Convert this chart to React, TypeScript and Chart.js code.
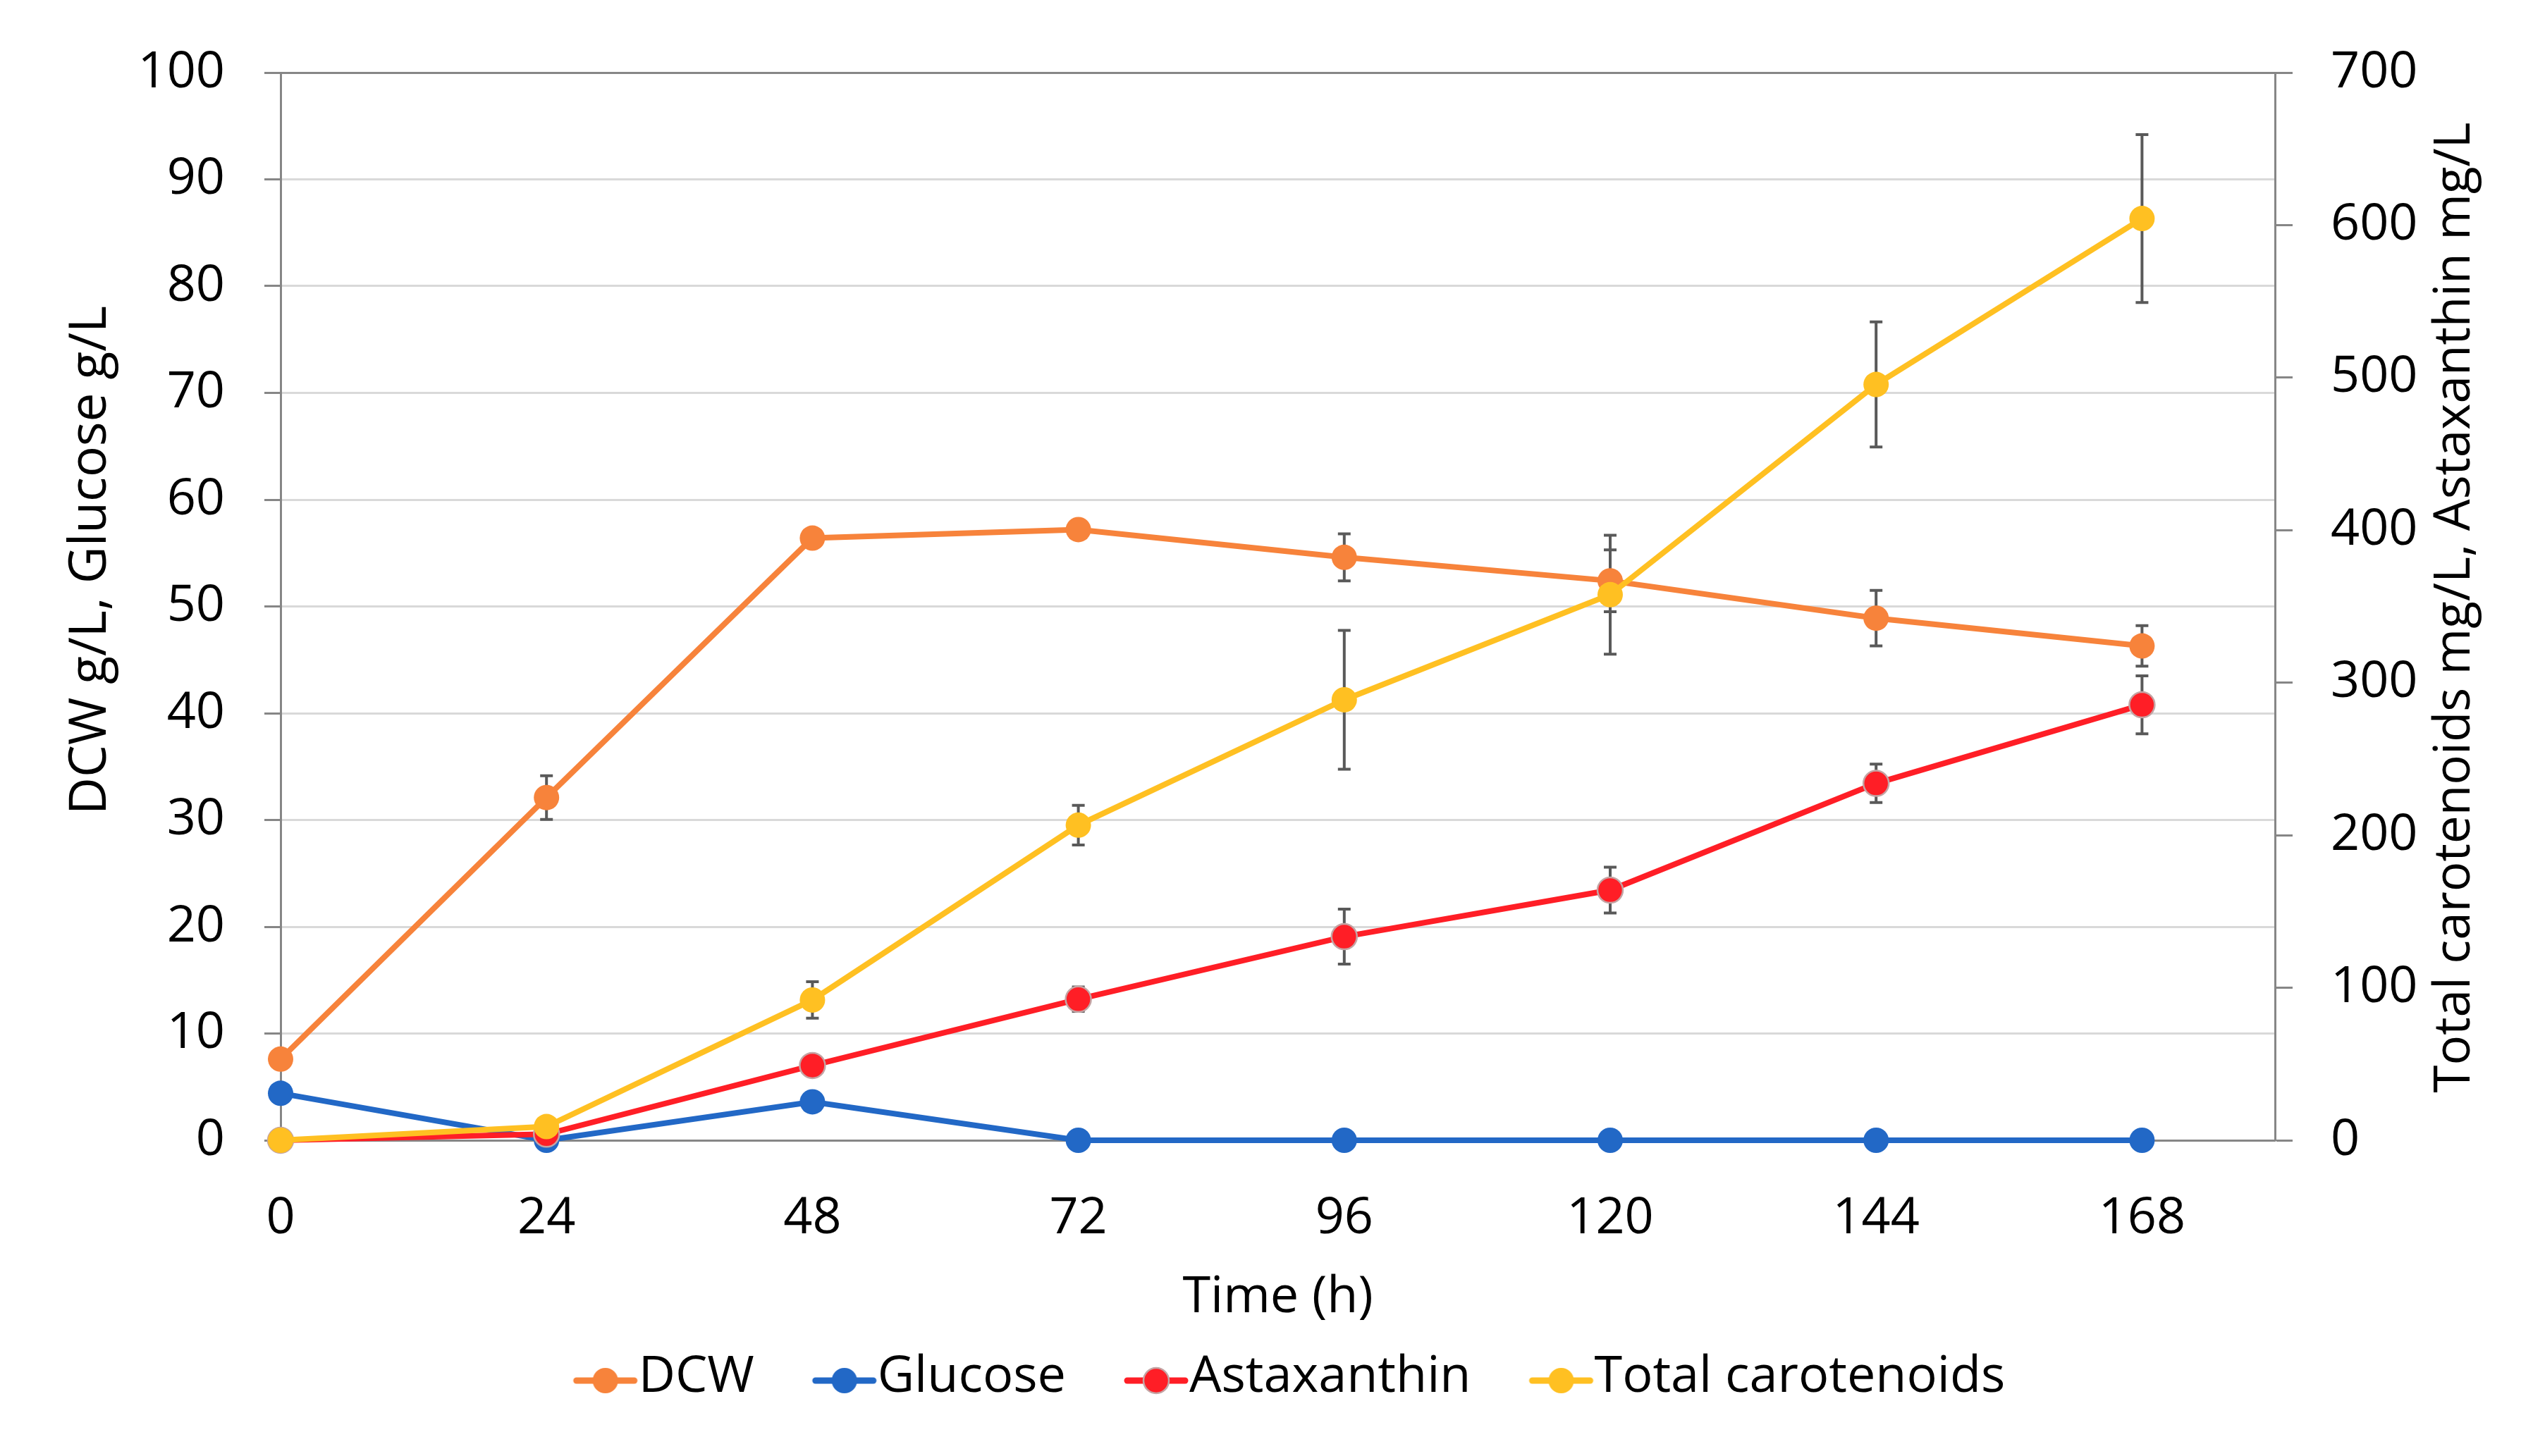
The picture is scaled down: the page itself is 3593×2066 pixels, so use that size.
import React, { useEffect, useRef } from 'react';
import { Chart, registerables } from 'chart.js';

Chart.register(...registerables);

// ---- data ----
const timeH = [0, 24, 48, 72, 96, 120, 144, 168];
const xTickValues = [0, 24, 48, 72, 96, 120, 144, 168];
const dcw = [7.6, 32.1, 56.4, 57.2, 54.6, 52.4, 48.9, 46.3];
const dcwErr = [0, 2.05, 0, 0, 2.2, 2.9, 2.6, 1.9];
const glucose = [4.4, 0, 3.6, 0, 0, 0, 0, 0];
const astaxanthin = [0, 4, 49, 92.5, 133.5, 164, 234, 285.5];
const astaxanthinErr = [0, 0, 0, 8, 18, 15, 12.6, 19];
const totalCarotenoids = [0, 9, 92, 206.6, 288.8, 357.7, 495.5, 604.3];
const totalCarotenoidsErr = [0, 0, 12, 13, 45.5, 39, 41, 55];
const seriesNames = ['DCW', 'Glucose', 'Astaxanthin', 'Total carotenoids'];
const seriesColors = ['#F7833B', '#2268C6', '#FF1E26', '#FFC022'];
const xTitle = 'Time (h)';
const leftTitle = 'DCW g/L, Glucose g/L';
const rightTitle = 'Total carotenoids mg/L, Astaxanthin mg/L';

const W = 3593;
const H = 2066;
const FONT = '"Open Sans", "Liberation Sans", sans-serif';
const AXIS_GRAY = '#868686';
const GRID_GRAY = '#D9D9D9';

function makeLegendSymbol(color: string, border?: string): HTMLCanvasElement {
  const c = document.createElement('canvas');
  c.width = 94;
  c.height = 64;
  const g = c.getContext('2d')!;
  const cy = 37;
  g.strokeStyle = color;
  g.lineWidth = 9;
  g.lineCap = 'round';
  g.beginPath();
  g.moveTo(6, cy);
  g.lineTo(88, cy);
  g.stroke();
  g.beginPath();
  g.arc(47, cy, 18, 0, Math.PI * 2);
  g.fillStyle = color;
  g.fill();
  if (border) {
    g.lineWidth = 2.5;
    g.strokeStyle = border;
    g.stroke();
  }
  return c;
}

const errorBarPlugin = {
  id: 'errorBars',
  beforeDatasetsDraw(chart: any) {
    const ctx = chart.ctx;
    const xs = chart.scales.x;
    const groups = [
      { vals: dcw, errs: dcwErr, axis: 'yL' },
      { vals: astaxanthin, errs: astaxanthinErr, axis: 'yR' },
      { vals: totalCarotenoids, errs: totalCarotenoidsErr, axis: 'yR' },
    ];
    ctx.save();
    ctx.strokeStyle = '#595959';
    ctx.lineWidth = 4;
    for (const g of groups) {
      const ys = chart.scales[g.axis];
      g.vals.forEach((v: number, i: number) => {
        const e = g.errs[i];
        if (!e) return;
        const x = xs.getPixelForValue(timeH[i]);
        const y1 = ys.getPixelForValue(v + e);
        const y2 = ys.getPixelForValue(v - e);
        ctx.beginPath();
        ctx.moveTo(x, y1);
        ctx.lineTo(x, y2);
        ctx.moveTo(x - 9, y1);
        ctx.lineTo(x + 9, y1);
        ctx.moveTo(x - 9, y2);
        ctx.lineTo(x + 9, y2);
        ctx.stroke();
      });
    }
    ctx.restore();
  },
};

const axisTitlePlugin = {
  id: 'axisTitles',
  afterDraw(chart: any) {
    const ctx = chart.ctx;
    ctx.save();
    ctx.fillStyle = '#000';
    ctx.textAlign = 'center';
    ctx.textBaseline = 'alphabetic';
    ctx.font = `73px ${FONT}`;
    ctx.translate(150, 795);
    ctx.rotate(-Math.PI / 2);
    ctx.fillText(leftTitle, 0, 0);
    ctx.restore();

    ctx.save();
    ctx.fillStyle = '#000';
    ctx.textAlign = 'center';
    ctx.textBaseline = 'alphabetic';
    ctx.font = `71px ${FONT}`;
    ctx.translate(3503, 862);
    ctx.rotate(-Math.PI / 2);
    ctx.fillText(rightTitle, 0, 0);
    ctx.restore();
  },
};

export default function App() {
  const ref = useRef<HTMLCanvasElement | null>(null);

  useEffect(() => {
    document.body.style.margin = '0';
    const canvas = ref.current!;
    const toPts = (arr: number[]) => timeH.map((t, i) => ({ x: t, y: arr[i] }));
    const symbols = [
      makeLegendSymbol(seriesColors[0]),
      makeLegendSymbol(seriesColors[1]),
      makeLegendSymbol(seriesColors[2], '#C4A4A4'),
      makeLegendSymbol(seriesColors[3]),
    ];
    const base = {
      borderWidth: 8,
      pointRadius: 18,
      pointHoverRadius: 18,
      pointBorderWidth: 0,
      clip: false as const,
      tension: 0,
    };
    const chart = new Chart(canvas, {
      type: 'line',
      data: {
        datasets: [
          {
            ...base,
            label: seriesNames[0],
            data: toPts(dcw),
            borderColor: seriesColors[0],
            backgroundColor: seriesColors[0],
            pointBackgroundColor: seriesColors[0],
            yAxisID: 'yL',
            order: 4,
          },
          {
            ...base,
            label: seriesNames[1],
            data: toPts(glucose),
            borderColor: seriesColors[1],
            backgroundColor: seriesColors[1],
            pointBackgroundColor: seriesColors[1],
            yAxisID: 'yL',
            order: 3,
          },
          {
            ...base,
            label: seriesNames[2],
            data: toPts(astaxanthin),
            borderColor: seriesColors[2],
            backgroundColor: seriesColors[2],
            pointBackgroundColor: seriesColors[2],
            pointBorderColor: '#C4A4A4',
            pointBorderWidth: 2.5,
            yAxisID: 'yR',
            order: 2,
          },
          {
            ...base,
            label: seriesNames[3],
            data: toPts(totalCarotenoids),
            borderColor: seriesColors[3],
            backgroundColor: seriesColors[3],
            pointBackgroundColor: seriesColors[3],
            yAxisID: 'yR',
            order: 1,
          },
        ],
      },
      options: {
        responsive: false,
        maintainAspectRatio: false,
        devicePixelRatio: 1,
        animation: false,
        events: [],
        layout: { padding: { left: 99, right: 0, top: 103, bottom: 66 } },
        font: { family: FONT },
        plugins: {
          tooltip: { enabled: false },
          legend: {
            display: true,
            position: 'bottom',
            align: 'center',
            labels: {
              usePointStyle: true,
              pointStyleWidth: 22,
              padding: 117,
              color: '#000',
              font: { family: FONT, size: 72 },
              generateLabels: () =>
                seriesNames.map((name, i) => ({
                  text: name,
                  pointStyle: symbols[i] as any,
                  fillStyle: seriesColors[i],
                  strokeStyle: seriesColors[i],
                  lineWidth: 0,
                  hidden: false,
                  datasetIndex: i,
                  fontColor: '#000',
                })),
            },
          },
        },
        scales: {
          x: {
            type: 'linear',
            min: 0,
            max: 180,
            afterBuildTicks: (scale: any) => {
              scale.ticks = xTickValues.map((v) => ({ value: v }));
            },
            afterFit: (scale: any) => {
              scale.height = 183;
            },
            grid: { display: false, drawTicks: false },
            border: { display: true, color: AXIS_GRAY, width: 3 },
            ticks: {
              color: '#000',
              padding: 68,
              maxRotation: 0,
              autoSkip: false,
              font: { family: FONT, size: 72 },
              callback: (v: any) => String(v),
            },
            title: {
              display: true,
              text: xTitle,
              color: '#000',
              font: { family: FONT, size: 72, lineHeight: 1.2 },
              padding: { top: 0, bottom: -84 },
            },
          },
          yL: {
            type: 'linear',
            position: 'left',
            min: 0,
            max: 100,
            afterFit: (scale: any) => {
              scale.width = 299;
            },
            ticks: {
              stepSize: 10,
              color: '#000',
              padding: 56,
              font: { family: FONT, size: 72 },
            },
            grid: {
              color: (c: any) => (c.tick && c.tick.value === 100 ? AXIS_GRAY : GRID_GRAY),
              lineWidth: 3,
              tickLength: 23,
              tickColor: AXIS_GRAY,
              tickWidth: 3,
            },
            border: { display: true, color: AXIS_GRAY, width: 3 },
          },
          yR: {
            type: 'linear',
            position: 'right',
            min: 0,
            max: 700,
            afterFit: (scale: any) => {
              scale.width = 366;
            },
            ticks: {
              stepSize: 100,
              color: '#000',
              padding: 54,
              font: { family: FONT, size: 72 },
            },
            grid: {
              drawOnChartArea: false,
              tickLength: 25,
              tickColor: AXIS_GRAY,
              tickWidth: 3,
            },
            border: { display: true, color: AXIS_GRAY, width: 3 },
          },
        },
      } as any,
      plugins: [errorBarPlugin, axisTitlePlugin],
    });
    return () => chart.destroy();
  }, []);

  return (
    <div style={{ width: W, height: H, background: '#fff' }}>
      <canvas ref={ref} width={W} height={H} style={{ display: 'block', width: W, height: H }} />
    </div>
  );
}
